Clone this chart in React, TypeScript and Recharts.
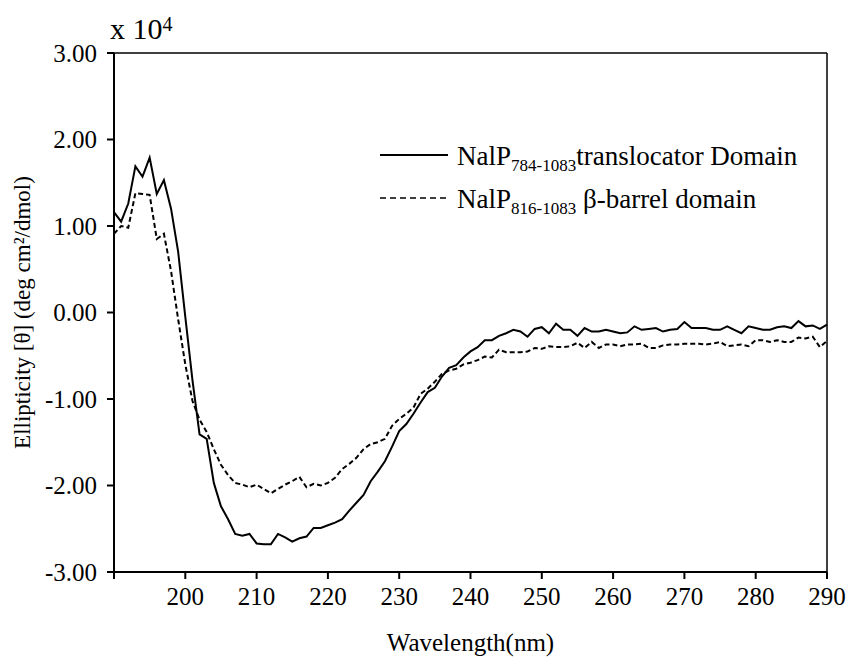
import React from 'react';
import { LineChart, Line, XAxis, YAxis, ReferenceLine, Legend, Customized } from 'recharts';

// wavelength (nm)
const wavelengths = [
  190, 191, 192, 193, 194, 195, 196, 197, 198, 199,
  200, 201, 202, 203, 204, 205, 206, 207, 208, 209,
  210, 211, 212, 213, 214, 215, 216, 217, 218, 219,
  220, 221, 222, 223, 224, 225, 226, 227, 228, 229,
  230, 231, 232, 233, 234, 235, 236, 237, 238, 239,
  240, 241, 242, 243, 244, 245, 246, 247, 248, 249,
  250, 251, 252, 253, 254, 255, 256, 257, 258, 259,
  260, 261, 262, 263, 264, 265, 266, 267, 268, 269,
  270, 271, 272, 273, 274, 275, 276, 277, 278, 279,
  280, 281, 282, 283, 284, 285, 286, 287, 288, 289,
  290,
];

// NalP 784-1083 translocator domain (x 10^4)
const translocator = [
  1.16, 1.05, 1.26, 1.69, 1.57, 1.79, 1.37, 1.53, 1.20, 0.70,
  -0.05, -0.78, -1.41, -1.46, -1.97, -2.24, -2.39, -2.56, -2.58, -2.56,
  -2.67, -2.68, -2.68, -2.56, -2.60, -2.65, -2.61, -2.59, -2.49, -2.49,
  -2.46, -2.43, -2.39, -2.29, -2.20, -2.11, -1.95, -1.84, -1.72, -1.55,
  -1.37, -1.29, -1.17, -1.04, -0.92, -0.87, -0.74, -0.64, -0.61, -0.52,
  -0.45, -0.40, -0.32, -0.32, -0.27, -0.24, -0.20, -0.22, -0.28, -0.19,
  -0.17, -0.24, -0.13, -0.20, -0.20, -0.27, -0.18, -0.22, -0.22, -0.20,
  -0.22, -0.24, -0.23, -0.16, -0.20, -0.19, -0.18, -0.22, -0.20, -0.19,
  -0.11, -0.18, -0.18, -0.18, -0.20, -0.20, -0.16, -0.20, -0.24, -0.16,
  -0.18, -0.20, -0.20, -0.17, -0.16, -0.18, -0.10, -0.16, -0.15, -0.19,
  -0.14,
];

// NalP 816-1083 beta-barrel domain (x 10^4)
const barrel = [
  0.91, 1.00, 0.98, 1.38, 1.37, 1.36, 0.85, 0.91, 0.48, -0.08,
  -0.60, -1.02, -1.24, -1.38, -1.58, -1.76, -1.88, -1.97, -1.99, -2.02,
  -1.99, -2.04, -2.09, -2.04, -1.99, -1.95, -1.90, -2.02, -1.98, -2.00,
  -1.97, -1.91, -1.81, -1.75, -1.68, -1.58, -1.52, -1.50, -1.46, -1.31,
  -1.23, -1.17, -1.10, -0.94, -0.88, -0.80, -0.71, -0.67, -0.65, -0.60,
  -0.58, -0.55, -0.51, -0.52, -0.43, -0.46, -0.46, -0.46, -0.45, -0.41,
  -0.42, -0.39, -0.40, -0.40, -0.39, -0.35, -0.41, -0.34, -0.41, -0.37,
  -0.37, -0.39, -0.37, -0.37, -0.36, -0.41, -0.41, -0.38, -0.37, -0.37,
  -0.36, -0.36, -0.36, -0.37, -0.36, -0.34, -0.39, -0.38, -0.37, -0.39,
  -0.32, -0.32, -0.34, -0.32, -0.34, -0.34, -0.29, -0.30, -0.28, -0.40,
  -0.33,
];

const xTicks = [190, 200, 210, 220, 230, 240, 250, 260, 270, 280, 290];
const yTicks = [-3, -2, -1, 0, 1, 2, 3];

const chartData = wavelengths.map((nm, i) => ({
  nm,
  translocator: translocator[i],
  barrel: barrel[i],
}));

const FONT = '"Liberation Serif", "Times New Roman", serif';

const LegendBox = () => (
  <svg width={440} height={90} style={{ overflow: 'visible', display: 'block' }}>
    <line x1={10} y1={25} x2={78} y2={25} stroke="#000" strokeWidth={2} />
    <text x={87} y={35} fontFamily={FONT} fontSize={27} fill="#000">
      NalP<tspan fontSize={17} dy={6}>784-1083</tspan>
      <tspan dy={-6}>translocator Domain</tspan>
    </text>
    <line x1={10} y1={68} x2={78} y2={68} stroke="#000" strokeWidth={1.5} strokeDasharray="6 4" />
    <text x={87} y={78} fontFamily={FONT} fontSize={27} fill="#000">
      NalP<tspan fontSize={17} dy={6}>816-1083</tspan>
      <tspan dy={-6}> β-barrel domain</tspan>
    </text>
  </svg>
);

const XTitle = (props: any) => {
  const vb = props.viewBox || { x: 114, width: 713 };
  return (
    <text x={vb.x + vb.width / 2} y={651} textAnchor="middle" fontFamily={FONT} fontSize={25} fill="#000">
      Wavelength(nm)
    </text>
  );
};

const YTitle = (props: any) => {
  const vb = props.viewBox || { y: 53, height: 519 };
  const cy = vb.y + vb.height / 2;
  return (
    <text x={22} y={cy} transform={`rotate(-90, 22, ${cy})`} textAnchor="middle" dominantBaseline="central"
      fontFamily={FONT} fontSize={23} fill="#000">
      Ellipticity [θ] (deg cm²/dmol)
    </text>
  );
};

const ScaleNote = () => (
  <text x={110} y={39} fontFamily={FONT} fontSize={30} fill="#000">
    x 10<tspan fontSize={20} dy={-8}>4</tspan>
  </text>
);

export default function App() {
  return (
    <div style={{ position: 'absolute', left: 0, top: 0, width: 848, height: 661, background: '#fff' }}>
      <LineChart
        width={848}
        height={661}
        data={chartData}
        margin={{ top: 53, right: 21, left: 54, bottom: 59 }}
      >
        <XAxis
          dataKey="nm"
          type="number"
          domain={[190, 290]}
          ticks={xTicks}
          interval={0}
          height={30}
          tickSize={7}
          tickMargin={8}
          tickFormatter={(v: number) => (v === 190 ? '' : String(v))}
          tick={{ fill: '#000', fontSize: 25, fontFamily: FONT }}
          tickLine={{ stroke: '#000', strokeWidth: 2 }}
          axisLine={{ stroke: '#000', strokeWidth: 2 }}
          label={<XTitle />}
        />
        <YAxis
          type="number"
          domain={[-3, 3]}
          ticks={yTicks}
          interval={0}
          width={60}
          tickSize={7}
          tickMargin={10}
          tickFormatter={(v: number) => v.toFixed(2)}
          tick={{ fill: '#000', fontSize: 25, fontFamily: FONT }}
          tickLine={{ stroke: '#000', strokeWidth: 2 }}
          axisLine={{ stroke: '#000', strokeWidth: 2 }}
          label={<YTitle />}
        />
        <ReferenceLine y={3} stroke="#000" strokeWidth={1.5} />
        <ReferenceLine x={290} stroke="#000" strokeWidth={1.5} />
        <Line
          type="linear"
          dataKey="translocator"
          stroke="#000"
          strokeWidth={2}
          dot={false}
          isAnimationActive={false}
        />
        <Line
          type="linear"
          dataKey="barrel"
          stroke="#000"
          strokeWidth={2}
          strokeDasharray="5 3"
          dot={false}
          isAnimationActive={false}
        />
        <Legend
          layout="horizontal"
          verticalAlign="middle"
          align="center"
          content={LegendBox}
          wrapperStyle={{ position: 'absolute', left: 370, top: 130, width: 440, height: 90 }}
        />
        <Customized component={ScaleNote} />
      </LineChart>
    </div>
  );
}
